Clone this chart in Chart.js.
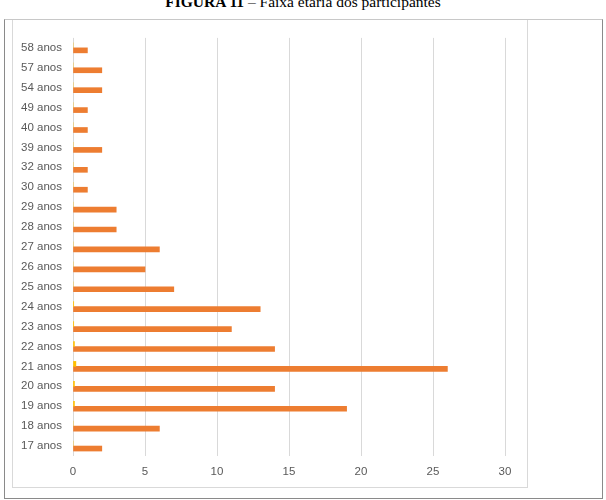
<!DOCTYPE html>
<html>
<head>
<meta charset="utf-8">
<script src="https://cdn.jsdelivr.net/npm/chart.js@4/dist/chart.umd.min.js"></script>
<style>
  html, body { margin: 0; padding: 0; background: #fff; width: 606px; height: 500px; overflow: hidden; }
  #title {
    position: absolute; left: 0; top: -7px; width: 606px; text-align: center;
    font-family: "Liberation Serif", "DejaVu Serif", serif; font-size: 15.5px; color: #000;
  }
  #outer {
    position: absolute; left: 4px; top: 19px; width: 597px; height: 478px;
    border: 1px solid #8a8a8a; border-top-color: #c8c8c8;
  }
  #inner {
    position: absolute; left: 12px; top: 20px; width: 514px; height: 467px;
    border: 1px solid #d9d9d9; border-top: none;
  }
  #wrap { position: absolute; left: 12px; top: 20px; width: 515px; height: 468px; }
</style>
</head>
<body>
<div id="title"><b>FIGURA 11</b> – Faixa etária dos participantes</div>
<div id="outer"></div>
<div id="inner"></div>
<div id="wrap"><canvas id="ageChart"></canvas></div>
<script>
const categories = ['58 anos', '57 anos', '54 anos', '49 anos', '40 anos', '39 anos', '32 anos',
  '30 anos', '29 anos', '28 anos', '27 anos', '26 anos', '25 anos', '24 anos', '23 anos',
  '22 anos', '21 anos', '20 anos', '19 anos', '18 anos', '17 anos'];
const participants = [1, 2, 2, 1, 1, 2, 1, 1, 3, 3, 6, 5, 7, 13, 11, 14, 26, 14, 19, 6, 2];
const share = [0, 0, 0, 0, 0, 0, 0, 0, 0, 0, 0, 0, 0, 0.05, 0.05, 0.1, 0.2, 0.1, 0.1, 0, 0];
const xTicks = [0, 5, 10, 15, 20, 25, 30];

Chart.defaults.animation = false;
Chart.defaults.font.family = '"Liberation Sans", Arial, sans-serif';
Chart.defaults.font.size = 11.5;
Chart.defaults.color = '#595959';

new Chart(document.getElementById('ageChart'), {
  type: 'bar',
  data: {
    labels: categories,
    datasets: [{
      label: 'Percentual',
      data: share,
      backgroundColor: '#FFC000',
      barThickness: 5,
      borderWidth: 0,
    }, {
      label: 'Participantes',
      data: participants,
      backgroundColor: '#ED7D31',
      barThickness: 5,
      borderWidth: 0,
    }],
  },
  options: {
    indexAxis: 'y',
    responsive: true,
    maintainAspectRatio: false,
    layout: { padding: { left: 0, right: 22, top: 14, bottom: 0 } },
    plugins: { legend: { display: false }, tooltip: { enabled: false } },
    scales: {
      x: {
        min: 0,
        max: 30,
        afterBuildTicks: (scale) => { scale.ticks = xTicks.map(v => ({ value: v })); },
        grid: { color: '#d9d9d9', drawTicks: false },
        border: { display: false },
        ticks: { padding: 9, color: '#595959' },
        afterFit: (scale) => { scale.height = 32; },
      },
      y: {
        grid: { display: false, drawTicks: false },
        border: { display: false },
        ticks: { padding: 11, color: '#595959' },
        afterFit: (scale) => { scale.width = 61; },
      },
    },
  },
});
</script>
</body>
</html>
